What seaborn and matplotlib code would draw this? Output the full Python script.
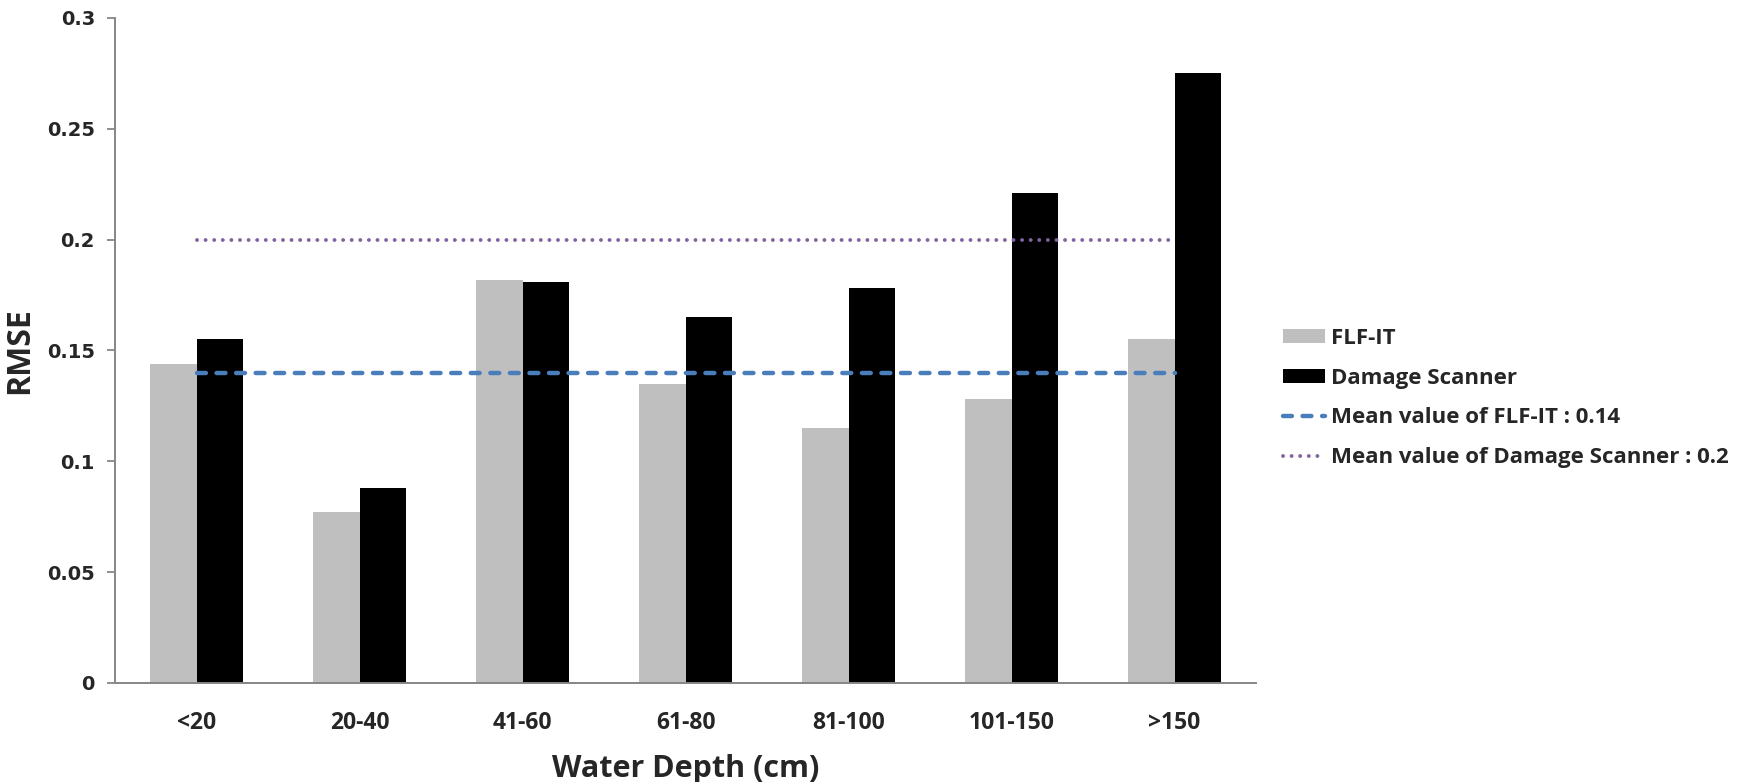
import numpy as np
import pandas as pd
import matplotlib
matplotlib.use("Agg")
import matplotlib.pyplot as plt
import seaborn as sns
from matplotlib.lines import Line2D
from matplotlib.patches import Patch

# data
depth_classes = ["<20", "20-40", "41-60", "61-80", "81-100", "101-150", ">150"]
flf_it = [0.144, 0.077, 0.182, 0.135, 0.115, 0.128, 0.155]
damage_scanner = [0.155, 0.088, 0.181, 0.165, 0.178, 0.221, 0.275]
mean_flf_it = 0.14
mean_damage_scanner = 0.2
series_names = ["FLF-IT", "Damage Scanner"]

df = pd.DataFrame({
    "depth": depth_classes * 2,
    "rmse": flf_it + damage_scanner,
    "model": [series_names[0]] * len(depth_classes) + [series_names[1]] * len(depth_classes),
})

sns.set_style("white")
plt.rcParams["font.family"] = ["Open Sans", "DejaVu Sans"]

fig = plt.figure(figsize=(17.46, 7.82), dpi=100)
ax = fig.add_axes([0.0659, 0.1266, 0.6535, 0.8504])

sns.barplot(data=df, x="depth", y="rmse", hue="model", order=depth_classes,
            hue_order=series_names, palette=["#BFBFBF", "#000000"],
            width=0.57, linewidth=0, saturation=1, ax=ax, legend=False)

# mean lines from first to last category centre
pos = np.arange(len(depth_classes))
blue_ls = (0, (2.0, 2.4))
dot_ls = (0, (0.01, 2.2))
ax.plot(pos, np.full(len(pos), mean_flf_it), color="#4A7EBB", lw=3.2,
        linestyle=blue_ls, dash_capstyle="round")
ax.plot(pos, np.full(len(pos), mean_damage_scanner), color="#8064A2", lw=2.8,
        linestyle=dot_ls, dash_capstyle="round")

ax.set_xlim(-0.5, len(depth_classes) - 0.5)
ax.set_ylim(0, 0.3)
ax.set_yticks(np.arange(0, 0.31, 0.05))
ax.set_yticklabels(["0", "0.05", "0.1", "0.15", "0.2", "0.25", "0.3"],
                   fontfamily="DejaVu Sans", fontweight="bold", fontsize=14)
ax.set_xticks(pos)
ax.set_xticklabels(depth_classes, fontweight="bold", fontsize=16.5)
ax.tick_params(axis="x", length=0, pad=20)
ax.tick_params(axis="y", length=5.5, width=1.3, color="#868686", pad=9, left=True)

for s in ["top", "right"]:
    ax.spines[s].set_visible(False)
for s in ["left", "bottom"]:
    ax.spines[s].set_color("#868686")
    ax.spines[s].set_linewidth(1.4)

ax.set_xlabel("Water Depth (cm)", fontweight="bold", fontsize=22, labelpad=14)
ax.set_ylabel("RMSE", fontweight="bold", fontsize=23, labelpad=8)

handles = [
    Patch(facecolor="#BFBFBF", edgecolor="none"),
    Patch(facecolor="#000000", edgecolor="none"),
    Line2D([], [], color="#4A7EBB", lw=3.2, linestyle=blue_ls, dash_capstyle="round"),
    Line2D([], [], color="#8064A2", lw=2.8, linestyle=dot_ls, dash_capstyle="round"),
]
labels = series_names + [f"Mean value of FLF-IT : {mean_flf_it:g}",
                         f"Mean value of Damage Scanner : {mean_damage_scanner:g}"]
fig.legend(handles, labels, loc="center left", bbox_to_anchor=(0.7348, 0.491),
           frameon=False, prop={"weight": "bold", "size": 16},
           handlelength=1.9, handleheight=0.6, handletextpad=0.25,
           labelspacing=0.85, borderpad=0, borderaxespad=0)

fig.savefig("out.png", dpi=100)
plt.close(fig)
